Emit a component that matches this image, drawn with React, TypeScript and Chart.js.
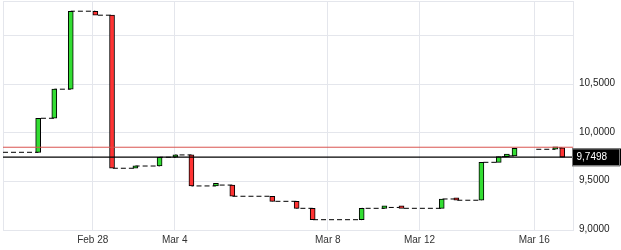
import { useEffect, useRef } from 'react';
import { Chart, registerables } from 'chart.js';

Chart.register(...registerables);

// ---- data ----
// x = position on the trading-time axis (sessions only, weekends/closures removed)
const candleTimes = [
  4.32, 6.3, 8.32, 11.34, 13.39, 16.26, 19.23, 21.17, 23.14, 26.15,
  28.16, 33.07, 36.06, 38.03, 44.05, 46.84, 48.94, 53.88, 55.68, 58.75,
  60.88, 61.88, 62.82, 67.82, 68.68,
];
const opens = [
  9.799, 10.149, 10.448, 11.25, 11.209, 9.635, 9.658, 9.748, 9.772, 9.453,
  9.462, 9.347, 9.295, 9.223, 9.106, 9.223, 9.232, 9.223, 9.319, 9.306,
  9.696, 9.754, 9.762, 9.83, 9.845,
];
const closes = [
  10.149, 10.448, 11.25, 11.209, 9.635, 9.658, 9.748, 9.772, 9.453, 9.462,
  9.347, 9.295, 9.223, 9.106, 9.223, 9.232, 9.223, 9.319, 9.306, 9.696,
  9.754, 9.762, 9.841, 9.845, 9.7498,
];
const priorClose = 9.799; // close before the first visible candle
const sessionBreakIndex = 23; // new session starts before this candle
const sessionStart = 65.49;
const sessionOpen = 9.83;
const referenceLevel = 9.851;

const xTickValues = [11.02, 21.09, 39.89, 51.15, 65.24];
const xTickLabels = ['Feb 28', 'Mar 4', 'Mar 8', 'Mar 12', 'Mar 16'];
const xRange = [0, 70];

const yTickValues = [9, 9.5, 10, 10.5, 11];
const yLabeledValues = [9, 9.5, 10, 10.5];
const yRange = [9, 11.355];

const lastPrice = closes[closes.length - 1];

const FONT = "'Liberation Sans', Arial, sans-serif";
const GRID = '#e4e6ec';
const UP = '#33dd33';
const DOWN = '#ff3333';

const fmt = (v: number) => v.toFixed(4).replace('.', ',');

export default function App() {
  const ref = useRef<HTMLCanvasElement>(null);

  useEffect(() => {
    document.body.style.margin = '0';
    const candles = candleTimes.map((t, i) => ({ x: t, y: [opens[i], closes[i]] }));

    const dashPoints: { x: number; y: number | null }[] = [{ x: xRange[0], y: priorClose }];
    candleTimes.forEach((t, i) => {
      if (i === sessionBreakIndex) {
        dashPoints.push({ x: (candleTimes[i - 1] + sessionStart) / 2, y: null });
        dashPoints.push({ x: sessionStart, y: sessionOpen });
      }
      dashPoints.push({ x: t, y: closes[i] });
    });

    const framePlugin = {
      id: 'frame',
      beforeDatasetsDraw(chart: any) {
        const { ctx, chartArea: a } = chart;
        ctx.save();
        ctx.strokeStyle = GRID;
        ctx.lineWidth = 1;
        ctx.strokeRect(Math.round(a.left) + 0.5, Math.round(a.top) + 0.5,
          Math.round(a.right - a.left), Math.round(a.bottom - a.top));
        ctx.restore();
      },
      afterDraw(chart: any) {
        const { ctx, chartArea: a, scales } = chart;
        const y = scales.y.getPixelForValue(lastPrice);
        ctx.save();
        ctx.fillStyle = '#000';
        ctx.fillRect(a.right - 1, Math.round(y) - 8.5, 49, 17);
        ctx.strokeStyle = '#777';
        ctx.lineWidth = 1;
        ctx.strokeRect(a.right - 0.5, Math.round(y) - 8, 47, 17);
        ctx.fillStyle = '#fff';
        ctx.font = `10px ${FONT}`;
        ctx.textBaseline = 'middle';
        ctx.textAlign = 'left';
        ctx.fillText(fmt(lastPrice), a.right + 3.5, Math.round(y) + 0.5);
        ctx.restore();
      },
    };

    const chart = new Chart(ref.current!, {
      type: 'bar',
      data: {
        datasets: [
          {
            type: 'line',
            data: [{ x: xRange[0], y: lastPrice }, { x: xRange[1], y: lastPrice }],
            borderColor: '#000',
            borderWidth: 1.2,
            pointRadius: 0,
            order: -2,
          } as any,
          {
            type: 'line',
            data: [{ x: xRange[0], y: referenceLevel }, { x: xRange[1], y: referenceLevel }],
            borderColor: '#d9534f',
            borderWidth: 1,
            pointRadius: 0,
            order: -1,
          } as any,
          {
            type: 'bar',
            data: candles as any,
            backgroundColor: (c: any) => {
              const r = c.raw;
              return r && r.y[1] < r.y[0] ? DOWN : UP;
            },
            borderColor: '#000',
            borderWidth: 1,
            borderSkipped: false,
            barThickness: 5,
            minBarLength: 2.5,
            grouped: false,
            order: 0,
          } as any,
          {
            type: 'line',
            data: dashPoints as any,
            stepped: 'before',
            borderColor: '#000',
            borderWidth: 1,
            borderDash: [5, 3],
            pointRadius: 0,
            spanGaps: false,
            order: 2,
          } as any,
        ],
      },
      options: {
        animation: false,
        responsive: false,
        maintainAspectRatio: false,
        layout: { padding: { left: 3, top: 1, right: 0, bottom: 0 } },
        plugins: { legend: { display: false }, tooltip: { enabled: false } },
        scales: {
          x: {
            type: 'linear',
            min: xRange[0],
            max: xRange[1],
            offset: false,
            grid: { color: GRID, drawTicks: false, offset: false },
            border: { display: false },
            afterBuildTicks: (s: any) => {
              s.ticks = xTickValues.map((v) => ({ value: v }));
            },
            afterFit: (s: any) => {
              s.height = 20;
              s.paddingLeft = 0;
              s.paddingRight = 0;
            },
            ticks: {
              autoSkip: false,
              maxRotation: 0,
              padding: 4,
              color: '#333',
              font: { family: FONT, size: 10 },
              callback: (v: any) => {
                const i = xTickValues.indexOf(Number(v));
                return i >= 0 ? xTickLabels[i] : '';
              },
            },
          },
          y: {
            type: 'linear',
            position: 'right',
            min: yRange[0],
            max: yRange[1],
            grid: { color: GRID, drawTicks: false },
            border: { display: false },
            afterBuildTicks: (s: any) => {
              s.ticks = yTickValues.map((v) => ({ value: v }));
            },
            afterFit: (s: any) => {
              s.width = 48;
              s.paddingTop = 0;
              s.paddingBottom = 0;
            },
            ticks: {
              padding: 6,
              labelOffset: -1,
              color: '#222',
              font: { family: FONT, size: 10 },
              callback: (v: any) => (yLabeledValues.includes(Number(v)) ? fmt(Number(v)) : ''),
            },
          },
        },
      },
      plugins: [framePlugin],
    });
    return () => chart.destroy();
  }, []);

  return (
    <div style={{ position: 'fixed', left: 0, top: 0, width: 621, height: 250, background: '#fff' }}>
      <canvas ref={ref} width={621} height={250} />
    </div>
  );
}
